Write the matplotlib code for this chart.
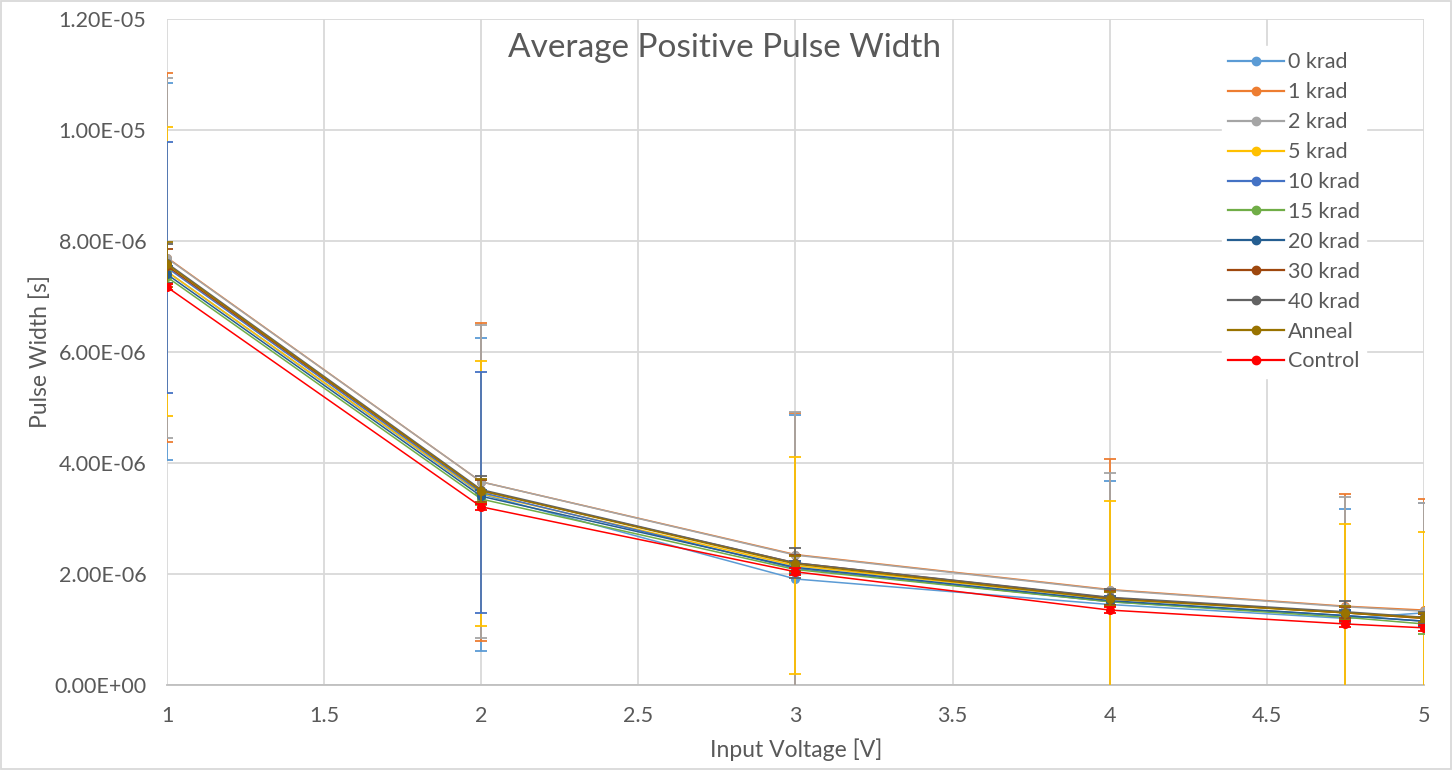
import matplotlib
matplotlib.use("Agg")
import matplotlib.pyplot as plt
import numpy as np
from matplotlib.lines import Line2D
from matplotlib.patches import Rectangle

plt.rcParams["font.family"] = ["Lato", "DejaVu Sans"]

# input voltage [V]
voltage = [1, 2, 3, 4, 4.75, 5]

# average positive pulse width, in microseconds
series_names = ["0 krad", "1 krad", "2 krad", "5 krad", "10 krad", "15 krad",
                "20 krad", "30 krad", "40 krad", "Anneal", "Control"]
series_colors = ["#5B9BD5", "#ED7D31", "#A5A5A5", "#FFC000", "#4472C4", "#70AD47",
                 "#255E91", "#9E480E", "#636363", "#997300", "#FF0000"]

width_0 = [7.45, 3.44, 1.91, 1.45, 1.20, 1.30]
width_1 = [7.70, 3.66, 2.35, 1.72, 1.42, 1.35]
width_2 = [7.69, 3.66, 2.34, 1.71, 1.41, 1.33]
width_5 = [7.45, 3.45, 2.15, 1.55, 1.30, 1.20]
width_10 = [7.52, 3.47, 2.10, 1.50, 1.25, 1.15]
width_15 = [7.35, 3.35, 2.08, 1.50, 1.22, 1.10]
width_20 = [7.40, 3.40, 2.12, 1.52, 1.25, 1.15]
width_30 = [7.55, 3.50, 2.20, 1.57, 1.30, 1.20]
width_40 = [7.60, 3.52, 2.20, 1.58, 1.32, 1.22]
width_anneal = [7.58, 3.50, 2.18, 1.55, 1.30, 1.21]
width_control = [7.17, 3.21, 2.04, 1.35, 1.10, 1.03]

# standard deviation, in microseconds
err_0 = [3.40, 2.82, 2.95, 2.22, 1.97, 1.98]
err_1 = [3.33, 2.86, 2.55, 2.35, 2.02, 2.00]
err_2 = [3.24, 2.82, 2.58, 2.11, 1.98, 1.95]
err_5 = [2.60, 2.38, 1.95, 1.77, 1.60, 1.56]
err_10 = [2.26, 2.17, 0.10, 0.08, 0.08, 0.08]
err_15 = [0.12, 0.10, 0.10, 0.08, 0.08, 0.18]
err_20 = [0.15, 0.12, 0.12, 0.08, 0.10, 0.08]
err_30 = [0.30, 0.20, 0.15, 0.12, 0.10, 0.08]
err_40 = [0.35, 0.25, 0.27, 0.15, 0.20, 0.10]
err_anneal = [0.40, 0.22, 0.15, 0.12, 0.12, 0.08]
err_control = [0.05, 0.05, 0.06, 0.05, 0.05, 0.05]

widths = [width_0, width_1, width_2, width_5, width_10, width_15,
          width_20, width_30, width_40, width_anneal, width_control]
errs = [err_0, err_1, err_2, err_5, err_10, err_15,
        err_20, err_30, err_40, err_anneal, err_control]

TEXT = "#595959"
GRID = "#D9D9D9"

fig = plt.figure(figsize=(14.52, 7.70), dpi=100)
ax = fig.add_axes([167 / 1452, 1 - 685 / 770, (1424 - 167) / 1452, (685 - 19) / 770])

handles = []
for i, (name, color, w, e) in enumerate(zip(series_names, series_colors, widths, errs)):
    ax.errorbar(voltage, np.array(w) * 1e-6, yerr=np.array(e) * 1e-6, fmt="-o",
                color=color, ecolor=color, lw=1.1, elinewidth=1.3, capsize=4.5,
                capthick=1.3, markersize=5.5, zorder=3 + i * 0.1)
    handles.append(Line2D([], [], color=color, lw=1.6, marker="o", markersize=6, label=name))

ax.set_xlim(1, 5)
ax.set_ylim(0, 1.2e-5)
ax.set_xticks(np.arange(1, 5.01, 0.5))
ax.set_xticklabels(["1", "1.5", "2", "2.5", "3", "3.5", "4", "4.5", "5"])
ax.set_yticks(np.arange(0, 1.21e-5, 2e-6))
ax.yaxis.set_major_formatter(plt.FuncFormatter(lambda v, _: f"{v:.2E}"))
ax.tick_params(axis="both", length=0, labelsize=15.5, colors=TEXT, pad=15)
ax.grid(True, color=GRID, linewidth=1.3)
ax.set_axisbelow(True)
for side in ("top", "right", "left"):
    ax.spines[side].set_visible(False)
ax.spines["bottom"].set_color("#BFBFBF")
ax.spines["bottom"].set_linewidth(1.3)

fig.text(796 / 1452, 1 - 750 / 770, "Input Voltage [V]", fontsize=16.5, color=TEXT,
         ha="center", va="center")
fig.text(40 / 1452, 1 - 352 / 770, "Pulse Width [s]", fontsize=16.5, color=TEXT,
         ha="center", va="center", rotation=90)
fig.text(725 / 1452, 1 - 48 / 770, "Average Positive Pulse Width", fontsize=24,
         color=TEXT, ha="center", va="center")

leg = ax.legend(handles=handles, loc="upper left", bbox_to_anchor=(1222 / 1452, 1 - 46 / 770),
                bbox_transform=fig.transFigure, frameon=True, fontsize=15.5,
                handlelength=2.6, handletextpad=0.15, labelspacing=0.46,
                borderpad=0.3, borderaxespad=0)
leg.get_frame().set_facecolor("white")
leg.get_frame().set_edgecolor("white")
leg.get_frame().set_alpha(1)
for t in leg.get_texts():
    t.set_color(TEXT)

fig.patches.append(Rectangle((0.001, 0.001), 0.998, 0.998, transform=fig.transFigure,
                             fill=False, edgecolor=GRID, linewidth=1.3))

fig.savefig("out.png", dpi=100)
